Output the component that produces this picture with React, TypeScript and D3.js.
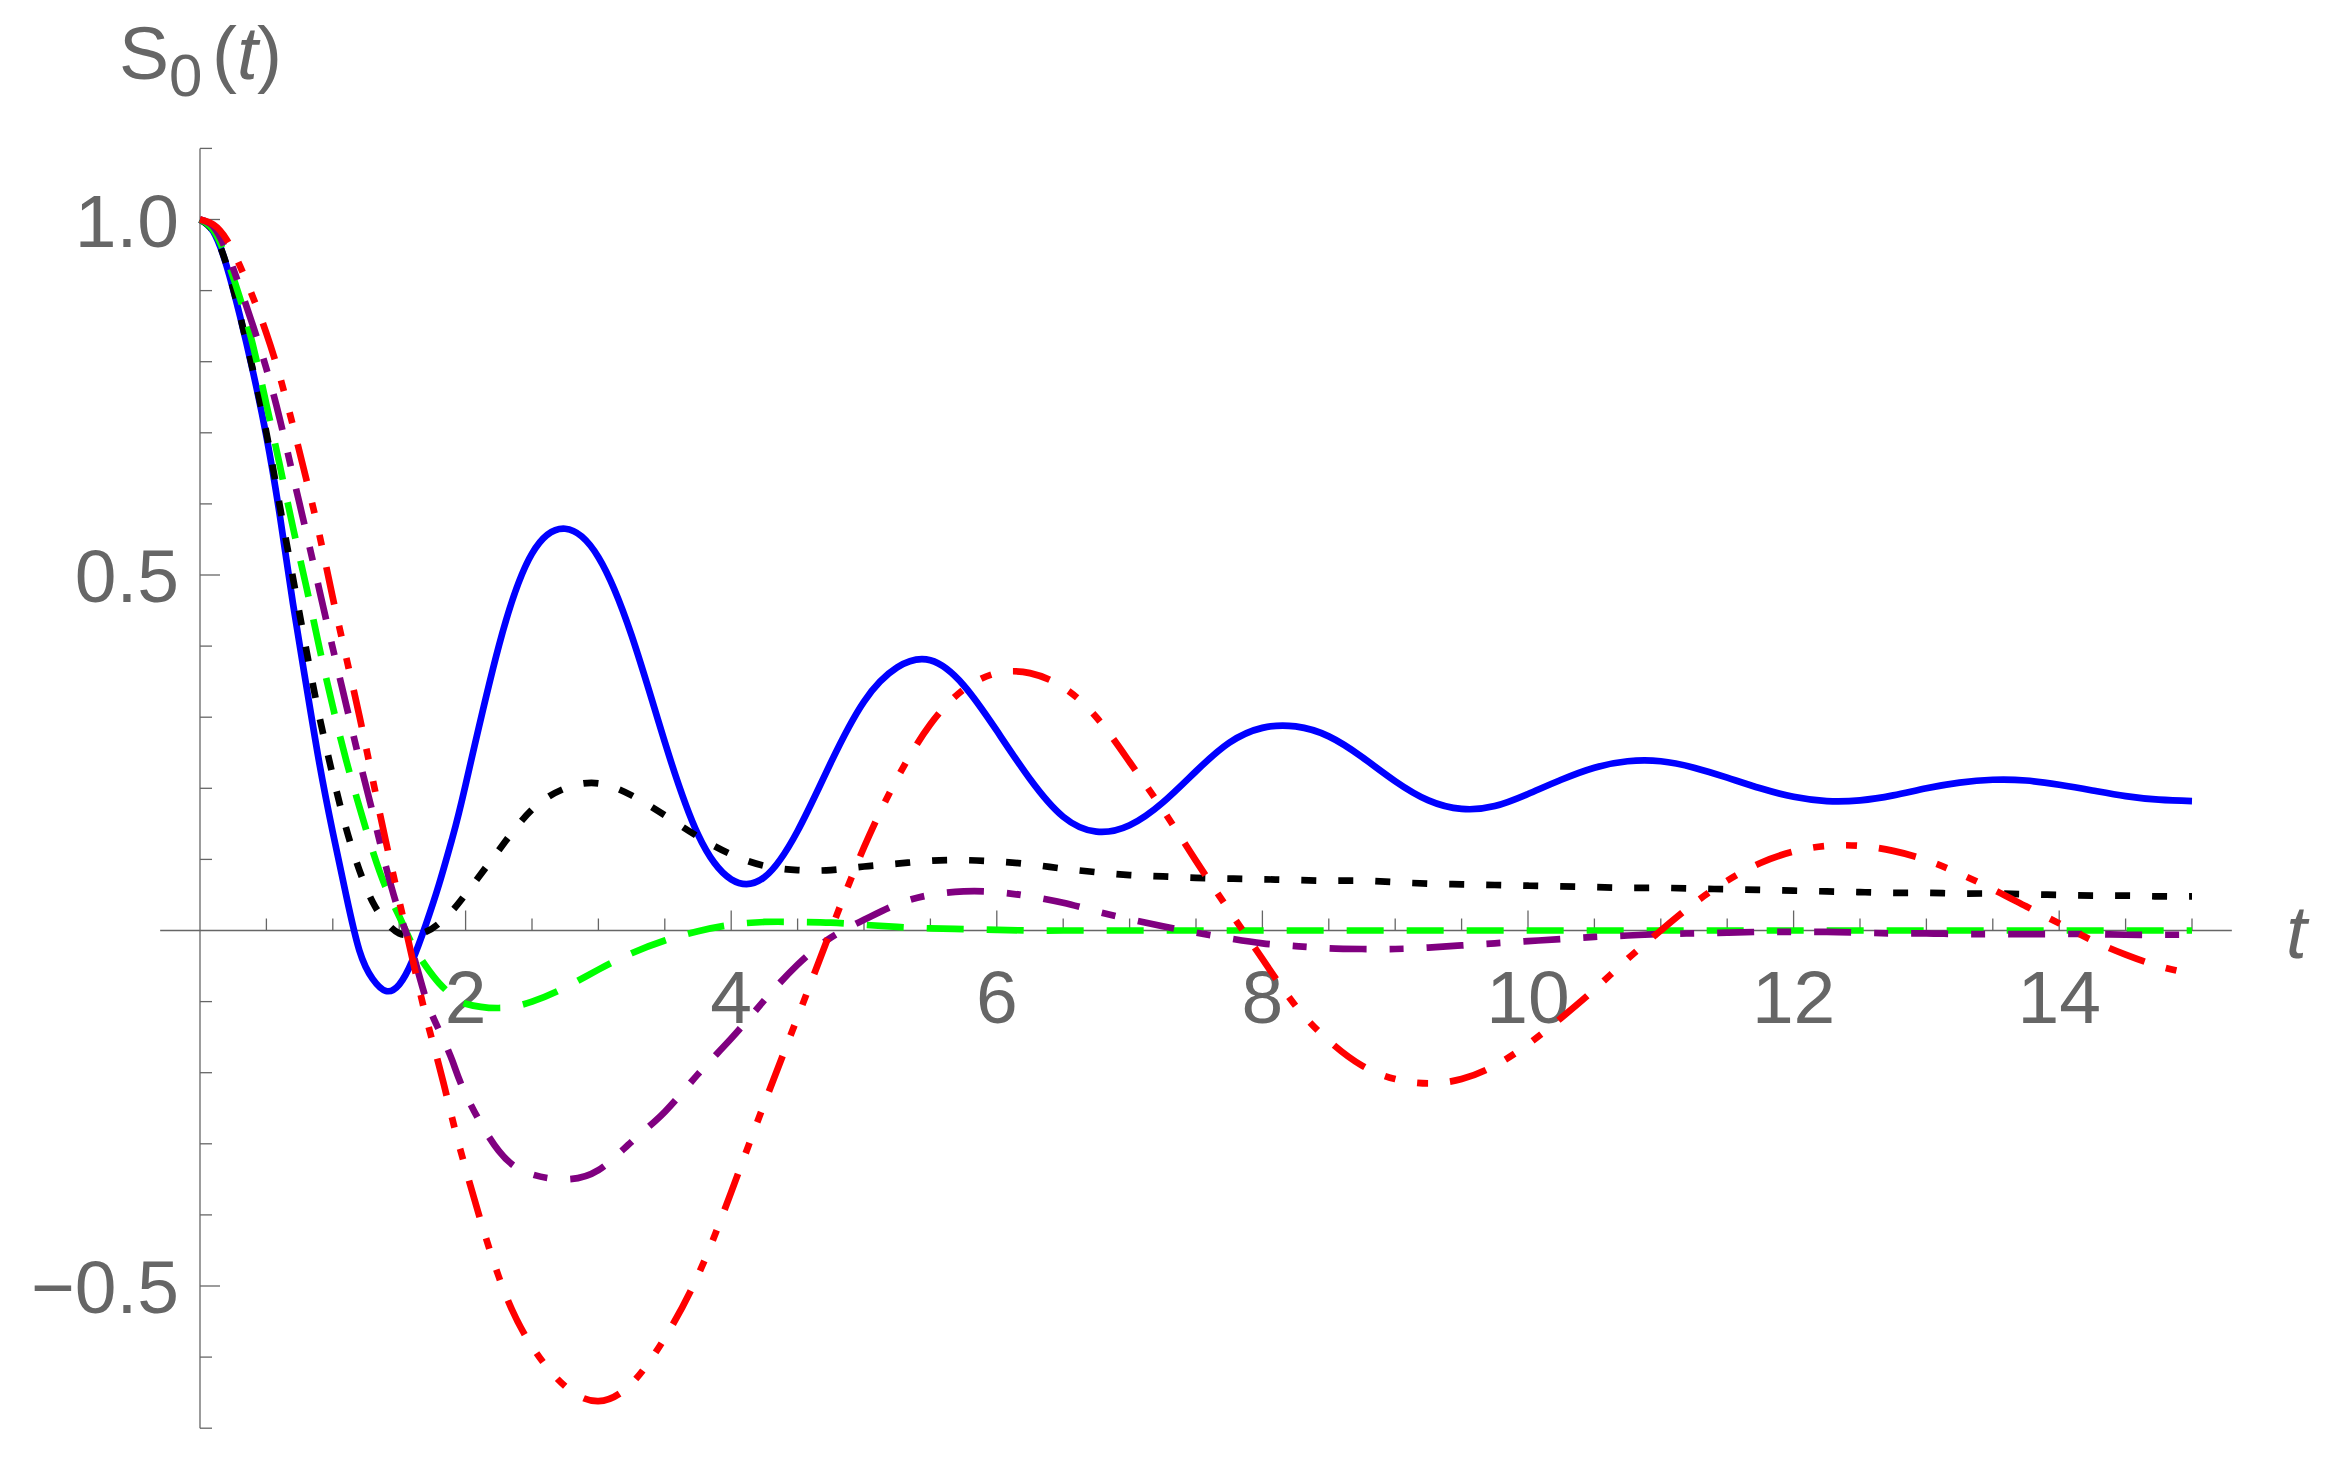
import React from 'react';
import * as d3 from 'd3';

// time grid (shared by all series)
const T = [
  0, 0.1, 0.2, 0.3, 0.4, 0.5, 0.6, 0.7, 0.8, 0.9, 1.0, 1.1, 1.2, 1.3, 1.4, 1.5, 1.6, 1.7, 1.8, 1.9, 2.0,
  2.25, 2.5, 2.75, 3.0, 3.25, 3.5, 3.75, 4.0, 4.25, 4.5, 4.75, 5.0, 5.25, 5.5, 5.75, 6.0,
  6.25, 6.5, 6.75, 7.0, 7.25, 7.5, 7.75, 8.0, 8.25, 8.5, 8.75, 9.0, 9.25, 9.5, 9.75, 10.0,
  10.25, 10.5, 10.75, 11.0, 11.25, 11.5, 11.75, 12.0, 12.25, 12.5, 12.75, 13.0, 13.25, 13.5, 13.75, 14.0,
  14.25, 14.5, 14.75, 15.0,
];

const blueS = [
  1.0, 0.983, 0.935, 0.865, 0.785, 0.695, 0.585, 0.46, 0.345, 0.234, 0.138, 0.05, -0.028, -0.068, -0.085, -0.076, -0.042, 0.008, 0.065, 0.13, 0.205,
  0.4, 0.53, 0.565, 0.525, 0.415, 0.265, 0.135, 0.072, 0.075, 0.14, 0.236, 0.322, 0.37, 0.38, 0.345, 0.281,
  0.213, 0.16, 0.139, 0.148, 0.18, 0.224, 0.264, 0.285, 0.287, 0.273, 0.244, 0.21, 0.183, 0.171, 0.175, 0.192,
  0.212, 0.229, 0.238, 0.238, 0.229, 0.215, 0.2, 0.188, 0.182, 0.183, 0.19, 0.2, 0.208, 0.212, 0.211, 0.205,
  0.197, 0.189, 0.184, 0.182,
];

const blackS = [
  1.0, 0.983, 0.936, 0.866, 0.787, 0.70, 0.598, 0.496, 0.395, 0.30, 0.218, 0.144, 0.085, 0.04, 0.012, -0.004, -0.006, -0.002, 0.01, 0.028, 0.051,
  0.113, 0.17, 0.2, 0.207, 0.19, 0.162, 0.132, 0.107, 0.091, 0.085, 0.085, 0.09, 0.094, 0.098, 0.099, 0.097,
  0.093, 0.087, 0.082, 0.078, 0.076, 0.074, 0.073, 0.072, 0.071, 0.07, 0.07, 0.068, 0.066, 0.065, 0.064, 0.063,
  0.062, 0.061, 0.06, 0.06, 0.059, 0.058, 0.057, 0.056, 0.055, 0.054, 0.053, 0.053, 0.052, 0.052, 0.051, 0.05,
  0.049, 0.049, 0.048, 0.048,
];

const greenS = [
  1.0, 0.985, 0.945, 0.89, 0.822, 0.74, 0.655, 0.567, 0.484, 0.397, 0.315, 0.24, 0.174, 0.112, 0.06, 0.02, -0.02, -0.05, -0.074, -0.092, -0.103,
  -0.109, -0.1, -0.08, -0.055, -0.032, -0.014, -0.001, 0.008, 0.012, 0.012, 0.011, 0.008, 0.005, 0.003, 0.002, 0.001,
  0.0, 0.0, 0.0, 0.0, 0.0, 0.0, 0.0, 0.0, 0.0, 0.0, 0.0, 0.0, 0.0, 0.0, 0.0, 0.0,
  0.0, 0.0, 0.0, 0.0, 0.0, 0.0, 0.0, 0.0, 0.0, 0.0, 0.0, 0.0, 0.0, 0.0, 0.0, 0.0,
  0.0, 0.0, 0.0, 0.0,
];

const purpleS = [
  1.0, 0.99, 0.955, 0.905, 0.85, 0.79, 0.72, 0.64, 0.56, 0.478, 0.397, 0.318, 0.24, 0.166, 0.09, 0.025, -0.03, -0.095, -0.14, -0.183, -0.23,
  -0.31, -0.343, -0.35, -0.337, -0.297, -0.255, -0.202, -0.152, -0.098, -0.048, -0.01, 0.015, 0.037, 0.05, 0.055, 0.054,
  0.048, 0.039, 0.027, 0.016, 0.006, -0.003, -0.011, -0.018, -0.022, -0.025, -0.026, -0.026, -0.024, -0.021, -0.018, -0.015,
  -0.012, -0.009, -0.007, -0.005, -0.004, -0.003, -0.002, -0.002, -0.002, -0.003, -0.004, -0.004, -0.005, -0.005, -0.005, -0.005,
  -0.005, -0.006, -0.006, -0.006,
];

const redS = [
  1.0, 0.993, 0.972, 0.935, 0.89, 0.84, 0.78, 0.71, 0.635, 0.556, 0.468, 0.385, 0.302, 0.213, 0.125, 0.042, -0.04, -0.12, -0.19, -0.265, -0.335,
  -0.487, -0.585, -0.641, -0.662, -0.637, -0.573, -0.485, -0.368, -0.243, -0.122, 0.0, 0.117, 0.214, 0.29, 0.339, 0.362,
  0.362, 0.342, 0.3, 0.237, 0.17, 0.098, 0.028, -0.04, -0.106, -0.155, -0.19, -0.209, -0.215, -0.209, -0.19, -0.16,
  -0.123, -0.083, -0.04, 0.0, 0.038, 0.07, 0.095, 0.111, 0.119, 0.119, 0.112, 0.099, 0.08, 0.058, 0.034, 0.01,
  -0.014, -0.034, -0.05, -0.061,
];

const X_MAJOR = [2, 4, 6, 8, 10, 12, 14];
const X_LABELS = ['2', '4', '6', '8', '10', '12', '14'];
const Y_MAJOR = [-0.5, 0.5, 1.0];
const Y_LABELS = ['\u22120.5', '0.5', '1.0'];

const SERIES = [
  { name: 'blue', values: blueS, color: '#0000ff', dash: null as string | null },
  { name: 'black', values: blackS, color: '#000000', dash: '15 22' },
  { name: 'green', values: greenS, color: '#00ff00', dash: '37 23' },
  { name: 'purple', values: purpleS, color: '#800080', dash: '37 23 14 23' },
  { name: 'red', values: redS, color: '#ff0000', dash: '38 22 11 22 11 22' },
];

const GRAY = '#666666';
const FONT = '"Liberation Sans", Arial, Helvetica, sans-serif';

export default function App() {
  const W = 2344;
  const H = 1462;
  const x = d3.scaleLinear().domain([0, 15]).range([200, 2192]);
  const y = d3.scaleLinear().domain([0, 1]).range([930.5, 219.5]);

  const line = d3
    .line<number>()
    .x((_, i) => x(T[i]))
    .y((d) => y(d))
    .curve(d3.curveNatural);

  const xMinor = d3.range(1, 31).map((i) => i * 0.5).filter((v) => v % 2 !== 0);
  const yMinor = d3
    .range(-7, 12)
    .map((i) => i / 10)
    .filter((v) => Math.abs(v) > 1e-9 && Math.abs(Math.abs(v) - 0.5) > 1e-9 && Math.abs(v - 1) > 1e-9);

  const x0 = x(0);
  const y0 = y(0);

  return (
    <svg
      width={W}
      height={H}
      viewBox={`0 0 ${W} ${H}`}
      style={{ position: 'absolute', left: 0, top: 0, background: '#ffffff' }}
    >
      <rect x={0} y={0} width={W} height={H} fill="#ffffff" />
      {/* axes */}
      <g stroke={GRAY} strokeWidth={1.3} fill="none">
        <line x1={x(-0.3)} x2={x(15.3)} y1={y0} y2={y0} />
        <line x1={x0} x2={x0} y1={y(1.1)} y2={y(-0.7)} />
        {X_MAJOR.map((v) => (
          <line key={'xM' + v} x1={x(v)} x2={x(v)} y1={y0} y2={y0 - 20} />
        ))}
        {xMinor.map((v) => (
          <line key={'xm' + v} x1={x(v)} x2={x(v)} y1={y0} y2={y0 - 12} />
        ))}
        {Y_MAJOR.map((v) => (
          <line key={'yM' + v} x1={x0} x2={x0 + 20} y1={y(v)} y2={y(v)} />
        ))}
        {yMinor.map((v) => (
          <line key={'ym' + v} x1={x0} x2={x0 + 12} y1={y(v)} y2={y(v)} />
        ))}
      </g>

      {/* tick labels */}
      <g fill={GRAY} fontFamily={FONT} fontSize={75}>
        {X_MAJOR.map((v, i) => (
          <text key={'xl' + v} x={x(v)} y={y0 + 92} textAnchor="middle">
            {X_LABELS[i]}
          </text>
        ))}
        {Y_MAJOR.map((v, i) => (
          <text key={'yl' + v} x={x0 - 21} y={y(v) + 27} textAnchor="end">
            {Y_LABELS[i]}
          </text>
        ))}
      </g>

      {/* axis labels */}
      <g fill={GRAY} fontFamily={FONT}>
        <text y={79} fontSize={75}>
          <tspan x={119}>S</tspan>
          <tspan x={169} y={96} fontSize={60}>0</tspan>
          <tspan x={212} y={79}>(</tspan>
          <tspan x={237} fontStyle="italic">t</tspan>
          <tspan x={257}>)</tspan>
        </text>
        <text x={2286} y={958} fontSize={75} fontStyle="italic">
          t
        </text>
      </g>

      {/* curves */}
      <g fill="none" strokeLinejoin="round">
        {SERIES.map((s) => (
          <path
            key={s.name}
            d={line(s.values) || ''}
            stroke={s.color}
            strokeWidth={6.7}
            strokeDasharray={s.dash || undefined}
            strokeLinecap="butt"
          />
        ))}
      </g>
    </svg>
  );
}
